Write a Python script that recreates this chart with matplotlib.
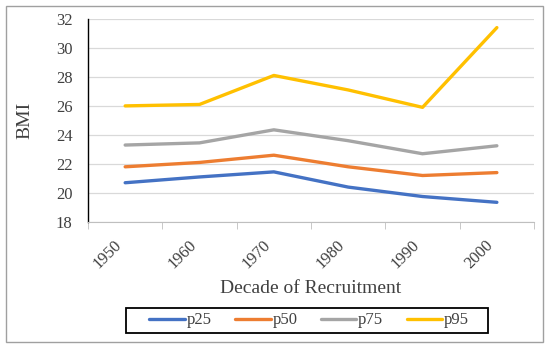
import matplotlib
matplotlib.use("Agg")
import matplotlib.pyplot as plt
from matplotlib.patches import Rectangle
import numpy as np

# decades and BMI percentiles
decades = ["1950", "1960", "1970", "1980", "1990", "2000"]
p25 = [20.7, 21.1, 21.45, 20.4, 19.75, 19.35]
p50 = [21.8, 22.1, 22.6, 21.8, 21.2, 21.4]
p75 = [23.3, 23.45, 24.35, 23.6, 22.7, 23.25]
p95 = [26.0, 26.1, 28.1, 27.1, 25.9, 31.4]

plt.rcParams['font.family'] = ['Liberation Serif', 'DejaVu Serif']

fig = plt.figure(figsize=(5.5, 3.5), dpi=100)
ax = fig.add_axes([0.16, 0.366, 0.811, 0.58])

# outer frame
fig.patches.append(Rectangle((6/550, 8/350), 537/550, 336/350, transform=fig.transFigure,
                             fill=False, edgecolor='#a0a0a0', linewidth=1.0))
# legend box
fig.patches.append(Rectangle((126/550, 1 - 333/350), 362/550, 25/350, transform=fig.transFigure,
                             fill=False, edgecolor='black', linewidth=1.3))

x = np.arange(len(decades))
ax.plot(x, p25, color='#4472C4', lw=2.4, label='p25', solid_capstyle='round')
ax.plot(x, p50, color='#ED7D31', lw=2.4, label='p50', solid_capstyle='round')
ax.plot(x, p75, color='#A5A5A5', lw=2.4, label='p75', solid_capstyle='round')
ax.plot(x, p95, color='#FFC000', lw=2.4, label='p95', solid_capstyle='round')

ax.set_xlim(-0.5, len(decades) - 0.5)
ax.set_ylim(18, 32)
ax.set_yticks(np.arange(18, 33, 2))
ax.grid(axis='y', color='#d9d9d9', lw=0.9)
ax.set_axisbelow(True)

ax.set_xticks(x)
ax.set_xticklabels(decades, rotation=45, ha='right', fontsize=12, color='#404040')
ax.set_xticks(np.arange(-0.5, len(decades)), minor=True)
ax.tick_params(axis='x', which='major', length=0, pad=11)
ax.tick_params(axis='x', which='minor', length=5, color='#bfbfbf')
ax.tick_params(axis='y', length=0, labelsize=12, labelcolor='#404040', pad=11)

for s in ['top', 'right']:
    ax.spines[s].set_visible(False)
ax.spines['left'].set_color('black')
ax.spines['left'].set_linewidth(1.0)
ax.spines['bottom'].set_color('#bfbfbf')

ax.set_ylabel('BMI', fontsize=14, color='#404040', labelpad=16)
ax.set_xlabel('Decade of Recruitment', fontsize=14, color='#404040', labelpad=6)

leg = fig.legend(loc='center', bbox_to_anchor=(309/550, 1 - 320.5/350), ncol=4, frameon=False,
                 fontsize=12, handlelength=2.15, columnspacing=1.4, handletextpad=0.1,
                 borderpad=0.0)
for t in leg.get_texts():
    t.set_color('#404040')

fig.savefig('out.png', dpi=100)
